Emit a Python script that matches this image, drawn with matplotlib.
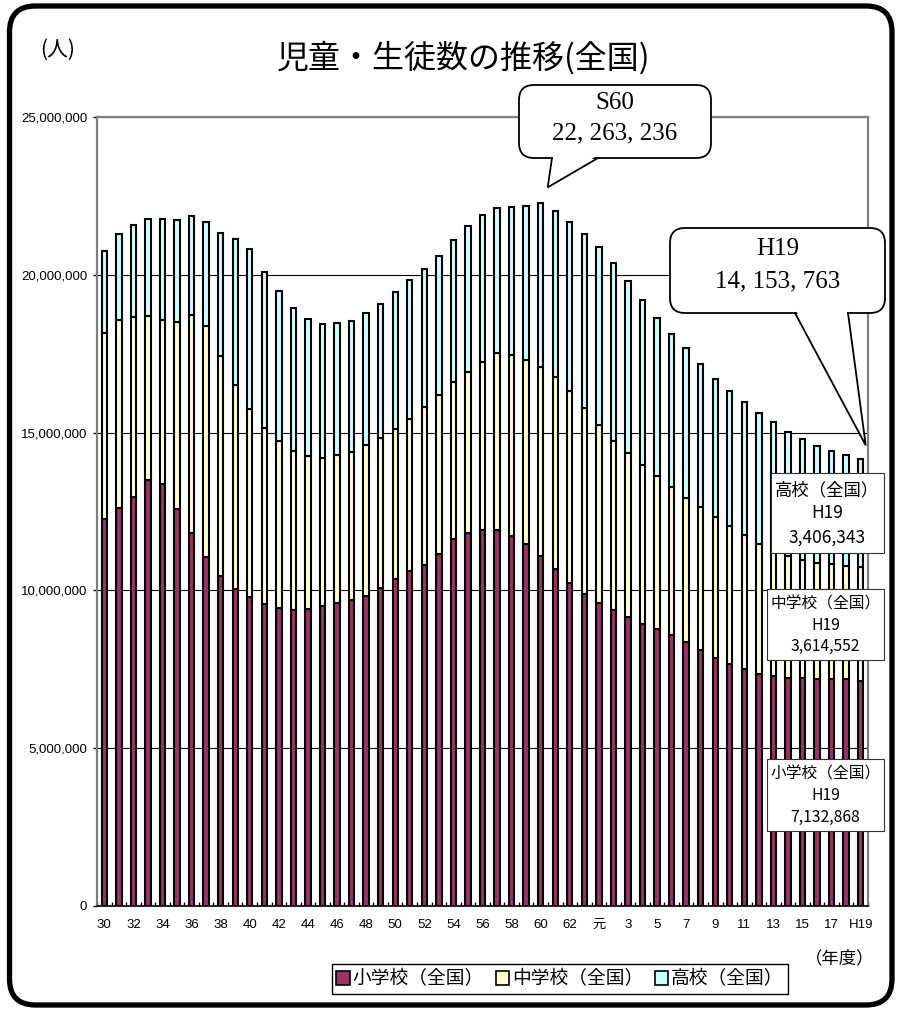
import numpy as np
import matplotlib
matplotlib.use("Agg")
import matplotlib.pyplot as plt
from matplotlib.patches import FancyBboxPatch, Polygon, Rectangle, Patch

plt.rcParams["font.family"] = ["Liberation Sans", "Noto Sans CJK JP"]
JP = ["Noto Sans CJK JP", "Liberation Sans"]

# ── Data (fiscal years S30 .. H19) ───────────────────────────────────────────

YEAR_LABELS = ([str(n) for n in range(30, 64)] + ["元"]
               + [str(n) for n in range(2, 19)] + ["H19"])

ELEM = [12266952, 12616311, 12956285, 13492087, 13374699, 12590680, 11810874, 11056915, 10471536, 10030990,
        9775532, 9584061, 9452071, 9383182, 9403193, 9493485, 9595021, 9696133, 9816536, 10088776,
        10364846, 10609985, 10819651, 11146874, 11629110, 11826573, 11924653, 11901520, 11739452, 11464221,
        11095372, 10665404, 10226323, 9872520, 9606627, 9373295, 9157429, 8947226, 8768881, 8582871,
        8370246, 8105629, 7855387, 7663533, 7500317, 7366079, 7296920, 7239327, 7226910, 7200933,
        7197458, 7187417, 7132868]

JHS = [5883692, 5962449, 5718192, 5209951, 5180319, 5899973, 6924693, 7328344, 6963975, 6475693,
       5956630, 5555762, 5270854, 5043069, 4865196, 4716833, 4694250, 4688444, 4779593, 4735705,
       4762442, 4833902, 4977119, 5048296, 4966972, 5094402, 5299282, 5623975, 5706810, 5828867,
       5990183, 6105749, 6081330, 5896080, 5619297, 5369162, 5188314, 5036840, 4850137, 4681166,
       4570390, 4527400, 4481480, 4380604, 4243762, 4103717, 3991911, 3862849, 3748319, 3663513,
       3626415, 3601527, 3614552]

HS = [2592001, 2702604, 2897646, 3057190, 3216152, 3239416, 3118907, 3281522, 3896682, 4634628,
      5073882, 4960289, 4770594, 4520000, 4345000, 4231542, 4178549, 4144541, 4203811, 4264296,
      4333079, 4386451, 4380260, 4414896, 4511210, 4621930, 4682827, 4601319, 4717287, 4888246,
      5177681, 5257169, 5375107, 5533393, 5644376, 5623336, 5454929, 5218497, 5010472, 4862725,
      4724945, 4547497, 4371360, 4258385, 4211826, 4165434, 4061756, 3929352, 3809801, 3719840,
      3605242, 3494513, 3406343]

SERIES = ["小学校（全国）", "中学校（全国）", "高校（全国）"]
COLORS = ["#993366", "#FFFFCC", "#CCFFFF"]

elem = np.array(ELEM)
jhs = np.array(JHS)
hs = np.array(HS)
total = elem + jhs + hs
x = np.arange(len(YEAR_LABELS))

# ── Figure ────────────────────────────────────────────────────────────────────

W, H = 900, 1009
fig = plt.figure(figsize=(W / 100, H / 100), dpi=100)
fig.patch.set_facecolor("white")
ax = fig.add_axes([97 / W, 103 / H, 771 / W, 789 / H])

kw = dict(width=0.37, edgecolor="black", linewidth=1.5, zorder=3)
ax.bar(x, elem, color=COLORS[0], **kw)
ax.bar(x, jhs, bottom=elem, color=COLORS[1], **kw)
ax.bar(x, hs, bottom=elem + jhs, color=COLORS[2], **kw)

ax.set_xlim(-0.48, 52.43)
ax.set_ylim(0, 25_000_000)
ax.set_yticks(np.arange(0, 25_000_001, 5_000_000))
ax.yaxis.set_major_formatter(plt.FuncFormatter(lambda v, _: f"{v:,.0f}"))
ax.yaxis.grid(True, color="black", linewidth=0.8)
ax.set_axisbelow(True)

for side in ("top", "left", "right"):
    ax.spines[side].set_color("#808080")
    ax.spines[side].set_linewidth(1.6)
ax.spines["bottom"].set_color("black")
ax.spines["bottom"].set_linewidth(1.2)

ax.set_xticks(x[::2])
ax.set_xticklabels(YEAR_LABELS[::2])
ax.set_xticks(np.arange(-0.5, len(x)), minor=True)
ax.tick_params(axis="x", which="major", length=0, labelsize=9.5, pad=9)
ax.tick_params(axis="x", which="minor", direction="in", length=3, width=1, color="black")
ax.tick_params(axis="y", direction="out", length=3, width=1, color="black", labelsize=9.5, pad=4)

# ── Overlay in pixel coordinates ─────────────────────────────────────────────

ov = fig.add_axes([0, 0, 1, 1], zorder=10)
ov.set_xlim(0, W)
ov.set_ylim(H, 0)
ov.axis("off")


def to_px(xd, yd):
    px, py = ax.transData.transform((xd, yd))
    return px, H - py


# outer rounded frame
ov.add_patch(FancyBboxPatch((9.5, 6), 882.5, 999, boxstyle="round,pad=0,rounding_size=26",
                            fc="none", ec="black", lw=3.8, clip_on=False))

ov.text(58, 50, "(人)", fontsize=15, family=JP, ha="center", va="center")
ov.text(464, 58, "児童・生徒数の推移(全国)", fontsize=23, family=JP, ha="center", va="center")
ov.text(840, 958, "（年度）", fontsize=12.5, family=JP, ha="center", va="center")


def callout(x0, y0, x1, y1, base_l, base_r, tip, lines, line_y):
    ov.add_patch(FancyBboxPatch((x0, y0), x1 - x0, y1 - y0,
                                boxstyle="round,pad=0,rounding_size=15",
                                fc="white", ec="black", lw=1.3, zorder=5))
    ov.add_patch(Polygon([(base_l + 1, y1 - 2.5), tip, (base_r - 1, y1 - 2.5)], closed=True,
                         fc="white", ec="none", zorder=6))
    ov.plot([base_l, tip[0], base_r], [y1, tip[1], y1], color="black", lw=1.3, zorder=7,
            solid_joinstyle="miter")
    cx = (x0 + x1) / 2
    for txt, ty in zip(lines, line_y):
        ov.text(cx, ty, txt, fontsize=18, family="Liberation Serif",
                ha="center", va="center", zorder=8)


def spaced(v):
    return f"{v:,}".replace(",", ", ")


peak = int(np.argmax(total))
tx, ty = to_px(peak, total[peak])
callout(519, 85, 711, 158, 552, 598, (tx + 7, ty - 16),
        ["S" + YEAR_LABELS[peak], spaced(int(total[peak]))], [103, 133])

tx, ty = to_px(x[-1], total[-1])
callout(670, 228, 885, 313, 795, 848, (tx + 5, ty - 14),
        [YEAR_LABELS[-1], spaced(int(total[-1]))], [249, 281])

# value boxes on the right
BOXES = [
    (771, 473, 884, 553, SERIES[2], hs[-1], 12.5, [490, 513, 538]),
    (767, 589, 884, 660, SERIES[1], jhs[-1], 11.3, [604, 625, 646]),
    (767, 759, 884, 831, SERIES[0], elem[-1], 11.3, [774, 795, 817]),
]
for x0, y0, x1, y1, name, val, fs, ys in BOXES:
    ov.add_patch(Rectangle((x0, y0), x1 - x0, y1 - y0, fc="white", ec="#333333", lw=0.8, zorder=5))
    cx = (x0 + x1) / 2
    for txt, yy in zip([name, YEAR_LABELS[-1], f"{val:,}"], ys):
        ov.text(cx, yy, txt, fontsize=fs, family=JP, ha="center", va="center", zorder=6)

# legend
handles = [Patch(facecolor=c, edgecolor="black", linewidth=1.2) for c in COLORS]
leg = fig.legend(handles, SERIES, ncol=3, loc="center",
                 bbox_to_anchor=(560 / W, 1 - 979 / H),
                 prop={"family": JP, "size": 13.5},
                 frameon=True, fancybox=False, edgecolor="black", framealpha=1,
                 handlelength=0.7, handleheight=0.7, handletextpad=0.15,
                 columnspacing=0.65, borderpad=0.25)
leg.get_frame().set_linewidth(1.0)
leg.set_zorder(20)

fig.savefig("out.png", dpi=100)
